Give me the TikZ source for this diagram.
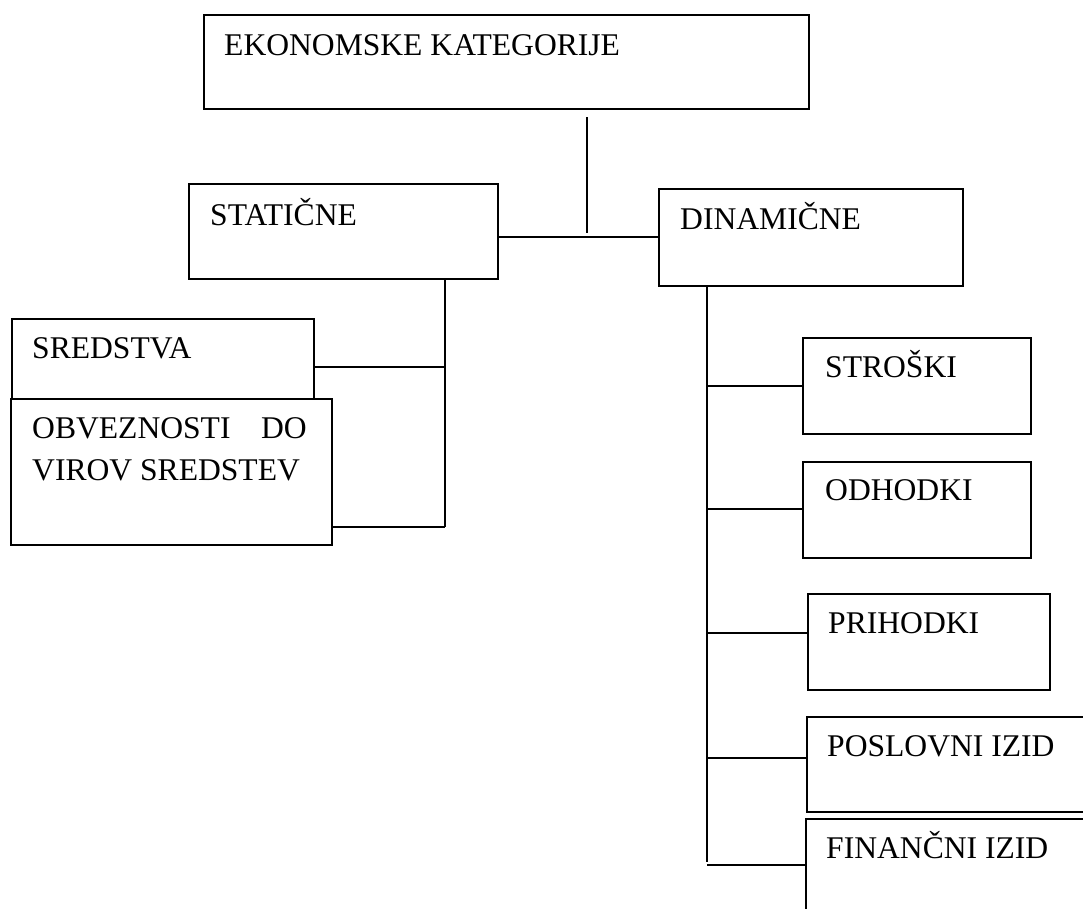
\documentclass[tikz,border=0pt]{standalone}
\usepackage{fontspec}
\setmainfont{Liberation Serif}
\usetikzlibrary{calc}
\begin{document}
\begin{tikzpicture}[x=1pt,y=-1pt,
  box/.style={draw=black, line width=2.2pt, fill=white, rectangle, inner sep=0pt, anchor=north west},
  txt/.style={anchor=base west, inner sep=0pt, font=\fontsize{31.6}{38}\selectfont},
  conn/.style={draw=black, line width=2.2pt}]
\clip (0,0) rectangle (1083,908);
\fill[white] (0,0) rectangle (1083,908);
% boxes
\node[box, minimum width=605, minimum height=94] (ek) at (203,14) {};
\node[box, minimum width=309, minimum height=95] (stat) at (188,183) {};
\node[box, minimum width=304, minimum height=97] (din) at (658,188) {};
\node[box, minimum width=302, minimum height=80] (sred) at (11,318) {};
\node[box, minimum width=321, minimum height=146] (obv) at (10,398) {};
\node[box, minimum width=228, minimum height=96] (stro) at (802,337) {};
\node[box, minimum width=228, minimum height=96] (odh) at (802,461) {};
\node[box, minimum width=242, minimum height=96] (pri) at (807,593) {};
\node[box, minimum width=290, minimum height=95] (pos) at (806,716) {};
\node[box, minimum width=290, minimum height=110] (fin) at (805,818) {};
% texts
\node[txt] (tek) at ($(ek.north west)+(21,41)$) {EKONOMSKE KATEGORIJE};
\node[txt] (tstat) at ($(stat.north west)+(22,42)$) {STATIČNE};
\node[txt] (tdin) at ($(din.north west)+(22,41)$) {DINAMIČNE};
\node[txt] (tsred) at ($(sred.north west)+(21,40)$) {SREDSTVA};
\node[txt] (tobv1) at ($(obv.north west)+(22,40)$) {OBVEZNOSTI};
\node[txt, anchor=base east] (tobv2) at ($(obv.north west)+(297,40)$) {DO};
\node[txt] (tobv3) at ($(obv.north west)+(22,82)$) {VIROV SREDSTEV};
\node[txt] (tstro) at ($(stro.north west)+(23,40)$) {STROŠKI};
\node[txt] (todh) at ($(odh.north west)+(23,39)$) {ODHODKI};
\node[txt] (tpri) at ($(pri.north west)+(21,40)$) {PRIHODKI};
\node[txt] (tpos) at ($(pos.north west)+(21,40)$) {POSLOVNI IZID};
\node[txt] (tfin) at ($(fin.north west)+(21,40)$) {FINANČNI IZID};
% junction coordinates
\coordinate (top) at ($(ek.south west)+(384,7)$);
\coordinate (jtop) at (587,233);
\coordinate (lspine) at (445,280);
\coordinate (lspineb) at (445,527);
\coordinate (rspine) at (707,287);
\coordinate (rspineb) at (707,862);
% connectors
\draw[conn] (top) -- (jtop);
\draw[conn] (stat.east |- 0,237) -- (din.west |- 0,237);
\draw[line width=2.8pt] (587,237) -- (612,237);
\draw[conn] (lspine) -- (lspineb);
\draw[conn] (sred.east |- 0,367) -- (lspine |- 0,367);
\draw[conn] (obv.east |- 0,527) -- (lspineb);
\draw[conn] (rspine) -- (rspineb);
\draw[conn] (rspine |- 0,386) -- (stro.west |- 0,386);
\draw[conn] (rspine |- 0,509) -- (odh.west |- 0,509);
\draw[conn] (rspine |- 0,633) -- (pri.west |- 0,633);
\draw[conn] (rspine |- 0,758) -- (pos.west |- 0,758);
\draw[conn] (rspine |- 0,865) -- (fin.west |- 0,865);
\end{tikzpicture}
\end{document}
